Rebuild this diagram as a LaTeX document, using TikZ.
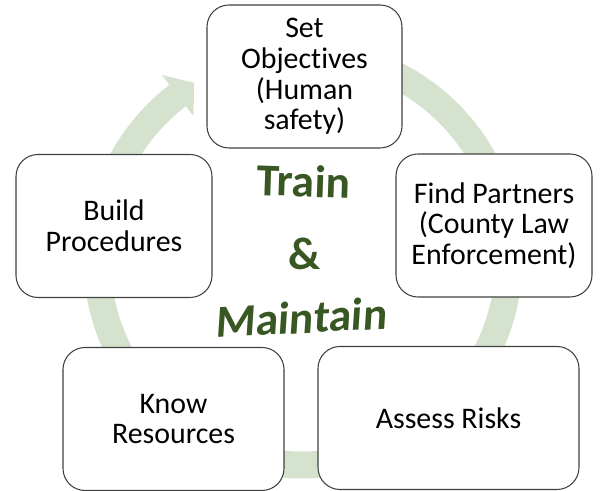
\documentclass[tikz,border=0pt]{standalone}
\usepackage{fontspec}
\setmainfont{Carlito}[Ligatures=NoCommon]
\usepackage{tikz}
\usetikzlibrary{calc}

\definecolor{ringgreen}{HTML}{D5E3CE}
\definecolor{darkgreen}{HTML}{385723}
\definecolor{boxline}{HTML}{404040}

\begin{document}
\begin{tikzpicture}[semithick,
  stage/.style={draw=boxline,fill=white,rounded corners=0.44cm,align=center,
    font=\fontsize{17}{17.5}\selectfont,minimum height=2.86cm},
  motto/.style={text=darkgreen,font=\fontsize{26}{30}\selectfont\bfseries}]
  \useasboundingbox (0,0) rectangle (12,9.82);

  % the ring and its head
  \coordinate (c) at (6.06,4.64);
  \draw[ringgreen,line width=0.54cm] (c) ++(95:4.12) arc[start angle=95,end angle=-232.5,radius=4.12];
  \fill[ringgreen] ($(c)+(127.5:3.60)$) -- ($(c)+(127.5:4.12)+(37.5:0.42)$) -- ($(c)+(127.5:4.64)$) -- cycle;

  \node[stage,minimum width=3.90cm] (OBJ)  at (6.09,8.29) {Set\\Objectives\\(Human\\safety)};
  \node[stage,minimum width=3.92cm] (PART) at (9.88,5.31) {Find Partners\\(County Law\\Enforcement)};
  \node[stage,minimum width=5.22cm] (RISK) at (8.97,1.46) {Assess Risks};
  \node[stage,minimum width=4.42cm] (RES)  at (3.47,1.44) {Know\\Resources};
  \node[stage,minimum width=3.92cm] (PROC) at (2.28,5.30) {Build\\Procedures};

  \node[motto,rotate=-2]            (TR) at (6.07,6.20) {Train};
  \node[motto]                      (AN) at (6.10,4.74) {\&};
  \node[motto,rotate=3,xslant=0.12] (MA) at (6.04,3.47) {Maintain};
\end{tikzpicture}
\end{document}
